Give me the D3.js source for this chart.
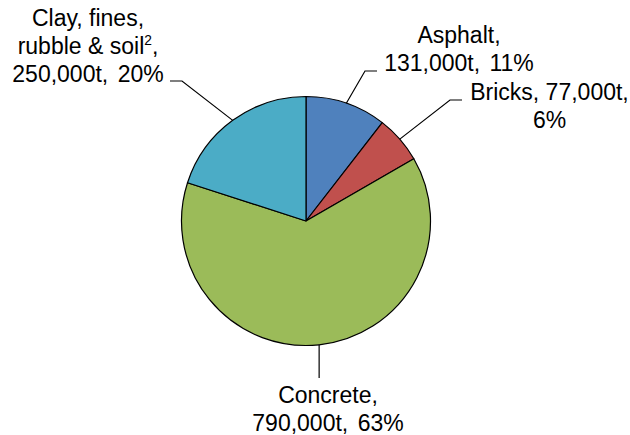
<!DOCTYPE html>
<html>
<head>
<meta charset="utf-8">
<script src="https://cdn.jsdelivr.net/npm/d3@7"></script>
<style>
  html, body { margin: 0; padding: 0; background: #fff; }
  text { font-family: "Liberation Sans", Arial, sans-serif; fill: #000; white-space: pre; }
</style>
</head>
<body>
<svg id="chart" width="630" height="435"></svg>
<script>
// Waste material composition (tonnes)
const materials = ["Asphalt", "Bricks", "Concrete", "Clay, fines, rubble & soil"];
const tonnes = [131000, 77000, 790000, 250000];
const tonneLabels = ["131,000t", "77,000t", "790,000t", "250,000t"];
const percentLabels = ["11%", "6%", "63%", "20%"];
const colors = ["#4F81BD", "#C0504D", "#9BBB59", "#4BACC6"];

const W = 630, H = 435;
const cx = 306, cy = 221, radius = 124.5;
const fontSize = 23, lineH = 27.8;

// Label placement: text block centre, first baseline, and leader elbow/end
const layout = [
  { x: 459, y: 43, elbow: [365, 71], end: [377, 71] },
  { x: 549.5, y: 100, elbow: [450, 100], end: [462, 100] },
  { x: 328, y: 403, elbow: null, end: [null, 378] },
  { x: 88, y: 26, elbow: [182, 81], end: [170, 81] }
];

const data = materials.map((m, i) => ({ name: m, value: tonnes[i], t: tonneLabels[i], p: percentLabels[i], i }));

const svg = d3.select("#chart");
const g = svg.append("g").attr("transform", `translate(${cx},${cy})`);

const pie = d3.pie().value(d => d.value).sort(null);
const arc = d3.arc().innerRadius(0).outerRadius(radius);
const arcs = pie(data);

g.selectAll("path.slice")
  .data(arcs)
  .join("path")
  .attr("class", "slice")
  .attr("d", arc)
  .attr("fill", d => colors[d.data.i])
  .attr("stroke", "#000")
  .attr("stroke-width", 1.2)
  .attr("stroke-linejoin", "round");

// Leader lines from the slice edge at its mid-angle
arcs.forEach(a => {
  const mid = (a.startAngle + a.endAngle) / 2;
  const px = cx + radius * Math.sin(mid);
  const py = cy - radius * Math.cos(mid);
  const L = layout[a.data.i];
  let pts;
  if (L.elbow) pts = [[px, py], L.elbow, L.end];
  else pts = [[px, py], [px, L.end[1]]];
  svg.append("path")
    .attr("d", d3.line()(pts))
    .attr("fill", "none")
    .attr("stroke", "#000")
    .attr("stroke-width", 1.2);
});

// Label text blocks; parts are plain strings, { sup } superscripts or { gap } spacers
function block(lines, L) {
  const t = svg.append("text")
    .attr("text-anchor", "middle")
    .attr("font-size", fontSize);
  lines.forEach((parts, k) => {
    const line = t.append("tspan").attr("x", L.x).attr("y", L.y + k * lineH);
    let raised = 0, pad = 0;
    parts.forEach(p => {
      if (typeof p === "string") {
        line.append("tspan").attr("dy", -raised).attr("dx", pad).text(p);
        raised = 0; pad = 0;
      } else if (p.gap) {
        pad = p.gap;
      } else {
        const shift = 9;
        line.append("tspan").attr("font-size", fontSize * 0.6).attr("dy", -shift).text(p.sup);
        raised = -shift;
      }
    });
  });
}

const d0 = data[0], d1 = data[1], d2 = data[2], d3x = data[3];
const valueLine = d => [d.t + ", ", { gap: 3 }, d.p];
block([[d0.name + ","], valueLine(d0)], layout[0]);
block([[d1.name + ", " + d1.t + ","], [d1.p]], layout[1]);
block([[d2.name + ","], valueLine(d2)], layout[2]);
block([["Clay, fines,"], ["rubble & soil", { sup: "2" }, ","], valueLine(d3x)], layout[3]);
</script>
</body>
</html>
